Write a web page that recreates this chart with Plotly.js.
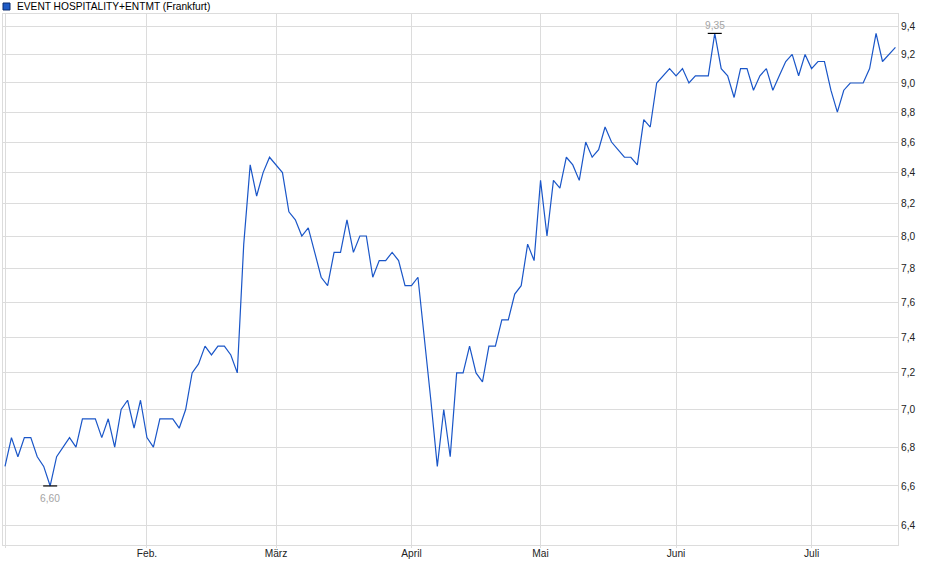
<!DOCTYPE html>
<html>
<head>
<meta charset="utf-8">
<script src="https://cdn.plot.ly/plotly-3.0.1.min.js"></script>
<style>
  html, body { margin: 0; padding: 0; background: #fff; }
  #chart { width: 940px; height: 579px; }
</style>
</head>
<body>
<div id="chart"></div>
<script>
// closing prices, one per trading day (Jan .. late Jul)
const prices = [
  6.70, 6.85, 6.75, 6.85, 6.85, 6.75, 6.70, 6.60, 6.75, 6.80,
  6.85, 6.80, 6.95, 6.95, 6.95, 6.85, 6.95, 6.80, 7.00, 7.05,
  6.90, 7.05, 6.85, 6.80, 6.95, 6.95, 6.95, 6.90, 7.00, 7.20,
  7.25, 7.35, 7.30, 7.35, 7.35, 7.30, 7.20, 7.95, 8.45, 8.25,
  8.40, 8.50, 8.45, 8.40, 8.15, 8.10, 8.00, 8.05, 7.90, 7.75,
  7.70, 7.90, 7.90, 8.10, 7.90, 8.00, 8.00, 7.75, 7.85, 7.85,
  7.90, 7.85, 7.70, 7.70, 7.75, 7.40, 7.05, 6.70, 7.00, 6.75,
  7.20, 7.20, 7.35, 7.20, 7.15, 7.35, 7.35, 7.50, 7.50, 7.65,
  7.70, 7.95, 7.85, 8.35, 8.00, 8.35, 8.30, 8.50, 8.45, 8.35,
  8.60, 8.50, 8.55, 8.70, 8.60, 8.55, 8.50, 8.50, 8.45, 8.75,
  8.70, 9.00, 9.05, 9.10, 9.05, 9.10, 9.00, 9.05, 9.05, 9.05,
  9.35, 9.10, 9.05, 8.90, 9.10, 9.10, 8.95, 9.05, 9.10, 8.95,
  9.05, 9.15, 9.20, 9.05, 9.20, 9.10, 9.15, 9.15, 8.95, 8.80,
  8.95, 9.00, 9.00, 9.00, 9.10, 9.35, 9.15, 9.20, 9.25
];

// first trading day of each month (index into prices)
const monthIdx = [0, 22, 42, 63, 83, 104, 125];
const monthLabels = ['', 'Feb.', 'März', 'April', 'Mai', 'Juni', 'Juli'];

const yTicks = [6.4, 6.6, 6.8, 7.0, 7.2, 7.4, 7.6, 7.8, 8.0, 8.2, 8.4, 8.6, 8.8, 9.0, 9.2, 9.4];

const seriesName = 'EVENT HOSPITALITY+ENTMT (Frankfurt)';

const LINE = '#1a56c8';
const GRID = '#dcdcdc';
const FONT = 'Liberation Sans, Arial, sans-serif';
const FS = 10.2;

const xs = prices.map((_, i) => i);
const fmt = v => v.toFixed(2).replace('.', ',');

const hi = Math.max(...prices);
const lo = Math.min(...prices);
const hiIdx = prices.indexOf(hi);
const loIdx = prices.indexOf(lo);

const traceLine = {
  x: xs,
  y: prices,
  type: 'scatter',
  mode: 'lines',
  line: { color: LINE, width: 1.2 },
  hoverinfo: 'skip',
  showlegend: false
};

// small black dashes at the high and the low
const traceExtremes = {
  x: [loIdx, hiIdx],
  y: [lo, hi],
  type: 'scatter',
  mode: 'markers',
  marker: { symbol: 'line-ew', size: 10, line: { color: '#000', width: 1.2 } },
  cliponaxis: false,
  hoverinfo: 'skip',
  showlegend: false
};

const extremeLabel = (idx, val, shift) => ({
  text: fmt(val),
  xref: 'x', yref: 'y',
  x: idx, y: Math.log10(val),   // log axis wants log10 here
  xanchor: 'center', yanchor: 'middle',
  yshift: shift,
  showarrow: false,
  font: { family: FONT, size: FS, color: '#a4a4a4' }
});

const layout = {
  width: 940,
  height: 579,
  margin: { l: 3, r: 42, t: 14, b: 34 },
  paper_bgcolor: '#fff',
  plot_bgcolor: '#fff',
  font: { family: FONT, size: FS, color: '#222' },
  separators: ',.',
  showlegend: false,
  xaxis: {
    type: 'linear',
    range: [-0.31, 138.4],
    tickvals: monthIdx,
    ticktext: monthLabels,
    ticks: 'outside',
    ticklen: 2,
    tickcolor: GRID,
    ticklabelstandoff: -3,
    showgrid: true,
    gridcolor: GRID,
    gridwidth: 1,
    zeroline: false,
    showline: true,
    linecolor: GRID,
    mirror: true,
    tickfont: { family: FONT, size: FS, color: '#222' }
  },
  yaxis: {
    type: 'log',
    side: 'right',
    range: [0.7998, 0.9773],
    tickvals: yTicks,
    tickformat: '.1f',
    ticks: '',
    showgrid: true,
    gridcolor: GRID,
    gridwidth: 1,
    zeroline: false,
    showline: true,
    linecolor: GRID,
    mirror: true,
    tickfont: { family: FONT, size: FS, color: '#222' }
  },
  shapes: [{
    type: 'rect',
    xref: 'paper', yref: 'paper',
    xsizemode: 'pixel', ysizemode: 'pixel',
    xanchor: 0, yanchor: 1,
    x0: 0, x1: 7, y0: 4, y1: 11,
    fillcolor: '#1f5bc6',
    line: { color: '#0b2d6e', width: 1 }
  }],
  annotations: [
    {
      text: seriesName,
      xref: 'paper', yref: 'paper',
      x: 0, y: 1,
      xanchor: 'left', yanchor: 'middle',
      xshift: 12, yshift: 7.5,
      showarrow: false,
      font: { family: FONT, size: FS, color: '#000' }
    },
    extremeLabel(hiIdx, hi, 8),
    extremeLabel(loIdx, lo, -12.5)
  ]
};

Plotly.newPlot('chart', [traceLine, traceExtremes], layout, { staticPlot: true, displayModeBar: false });
</script>
</body>
</html>
